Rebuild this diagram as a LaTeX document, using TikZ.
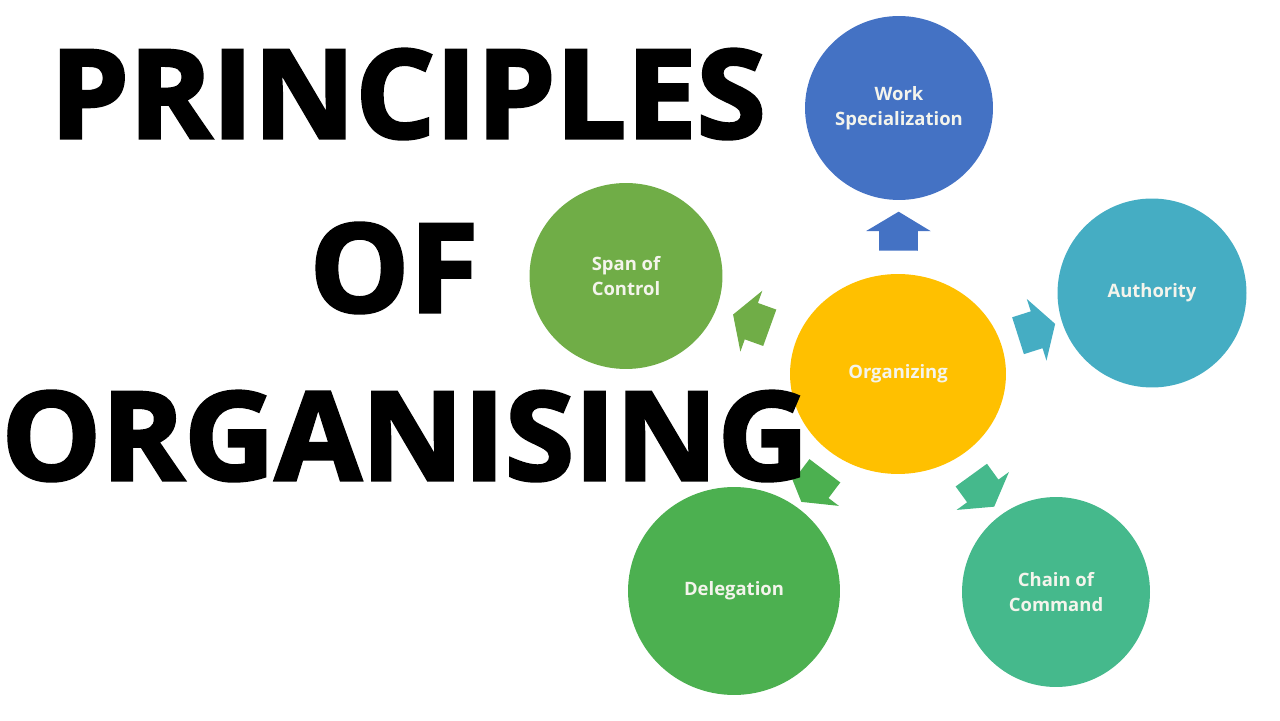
\documentclass[tikz,border=0pt]{standalone}
\usepackage{fontspec}
\setmainfont{Open Sans}
\newfontfamily\titlefont[FakeBold=2.5,FakeStretch=1.02]{Open Sans Bold}
\usetikzlibrary{shapes.geometric,shapes.arrows}

\definecolor{workblue}{HTML}{4472C4}
\definecolor{spangreen}{HTML}{70AD47}
\definecolor{authteal}{HTML}{45ADC3}
\definecolor{orgyellow}{HTML}{FFC000}
\definecolor{delegreen}{HTML}{4CB050}
\definecolor{chainteal}{HTML}{45B98C}
\definecolor{circtext}{HTML}{F4F4EC}

\tikzset{
  arrowblk/.style={single arrow, draw=none, minimum height=0.78cm,
    minimum width=1.28cm, inner xsep=0pt, inner ysep=0.38cm,
    single arrow tip angle=118, single arrow head extend=0.26cm,
    sloped, allow upside down}
}

\begin{document}
\begin{tikzpicture}[x=0.02cm,y=0.02cm]
      \useasboundingbox (0,0) rectangle (1280,720);

      \begin{scope}[every node/.style={ellipse, inner sep=0pt, text=circtext,
          font=\bfseries\fontsize{10.5}{14}\selectfont, align=center}]
        \node[fill=workblue,   minimum width=3.76cm, minimum height=3.68cm] (work)  at (899,612)  {Work\\Specialization};
        \node[fill=spangreen,  minimum width=3.86cm, minimum height=3.72cm] (span)  at (626,444)  {Span of\\Control};
        \node[fill=authteal,   minimum width=3.78cm, minimum height=3.78cm] (auth)  at (1152,427) {Authority};
        \node[fill=orgyellow,  minimum width=4.32cm, minimum height=4.00cm] (org)   at (898,346)  {Organizing};
        \node[fill=delegreen,  minimum width=4.24cm, minimum height=4.16cm] (deleg) at (734,129)  {Delegation};
        \node[fill=chainteal,  minimum width=3.76cm, minimum height=3.80cm] (chain) at (1056,128) {Chain of\\Command};
      \end{scope}

      \begin{scope}[every node/.style={arrowblk}]
        \path (org) -- node[fill=workblue]  {} (work);
        \path (org) -- node[fill=spangreen] {} (span);
        \path (org) -- node[fill=authteal]  {} (auth);
        \path (org) -- node[fill=delegreen] {} (deleg);
        \path (org) -- node[fill=chainteal] {} (chain);
      \end{scope}

      \begin{scope}[every node/.style={anchor=base, inner sep=0pt,
          font=\titlefont\fontsize{70}{70}\selectfont}]
        \node (principles) at (408,582) {PRINCIPLES};
        \node (of)         at (394,408) {OF};
        \node (organising) at (405,240) {ORGANISING};
      \end{scope}

    \end{tikzpicture}
\end{document}
